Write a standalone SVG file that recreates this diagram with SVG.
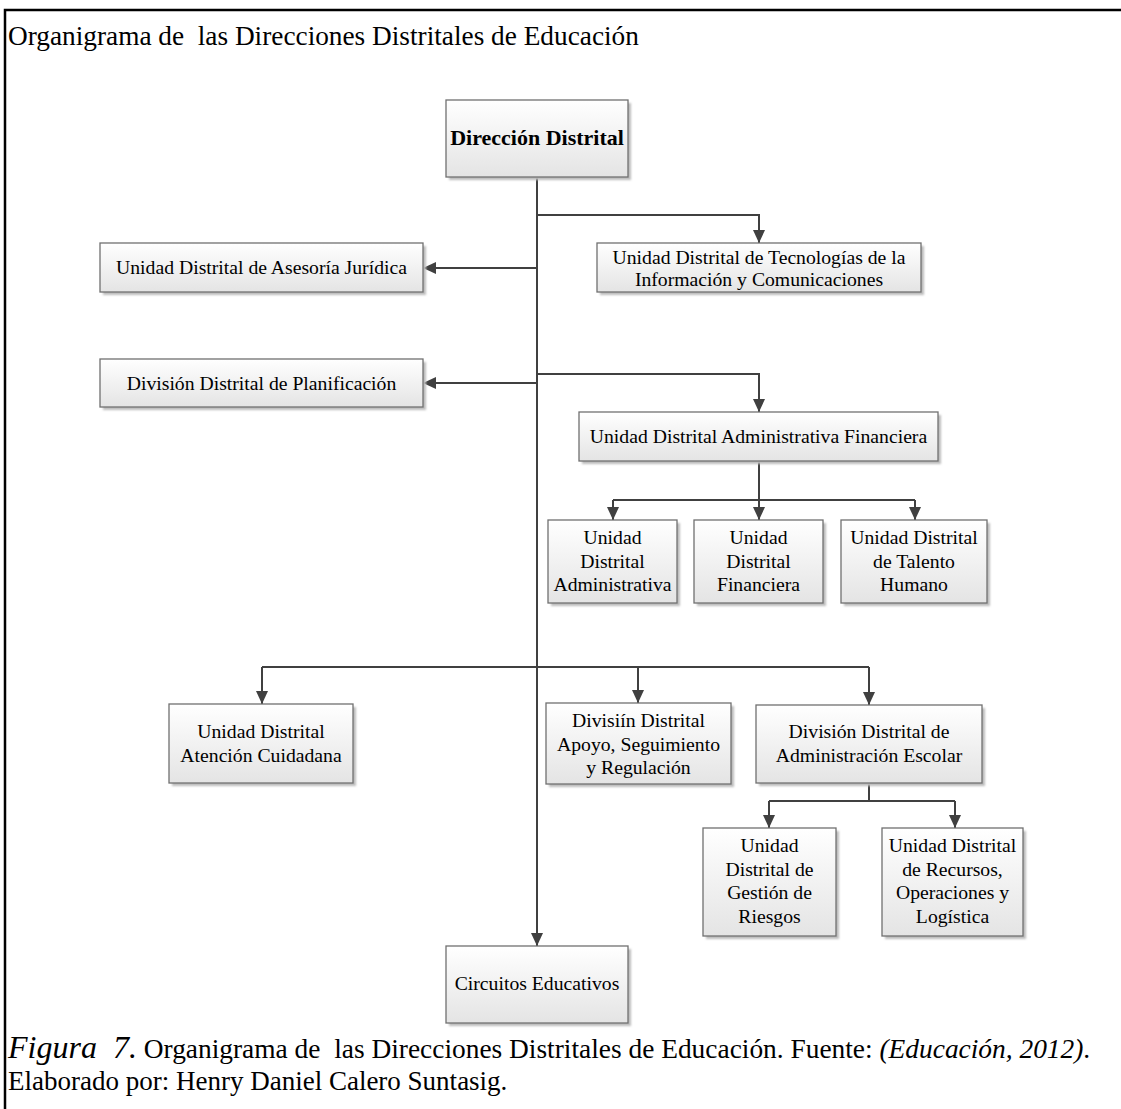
<svg xmlns="http://www.w3.org/2000/svg" width="1121" height="1109" viewBox="0 0 1121 1109">
<defs>
<linearGradient id="gfill" x1="0" y1="0" x2="0" y2="1">
<stop offset="0" stop-color="#ffffff"/>
<stop offset="1" stop-color="#e4e4e4"/>
</linearGradient>
<filter id="blur" x="-10%" y="-10%" width="120%" height="130%">
<feGaussianBlur stdDeviation="1.2"/>
</filter>
<marker id="ah" markerUnits="userSpaceOnUse" markerWidth="14" markerHeight="12" refX="13" refY="6" orient="auto">
<path d="M0,0 L13,6 L0,12 z" fill="#404040"/>
</marker>
</defs>
<style>
.box{fill:url(#gfill);stroke:#707070;stroke-width:1.3}
.sh{fill:#bcbcbc;filter:url(#blur)}
.t{font-family:"Liberation Serif","Times New Roman",serif;font-size:19.7px;fill:#000;text-anchor:middle}
.b{font-weight:bold;font-size:22px}
.c{fill:none;stroke:#404040;stroke-width:2}
.a{marker-end:url(#ah)}
.cap{font-family:"Liberation Serif","Times New Roman",serif;fill:#000;white-space:pre}
</style>
<rect width="1121" height="1109" fill="#ffffff"/>
<path d="M5,1109 V10 H1121" fill="none" stroke="#000" stroke-width="2.5"/>
<text class="cap" x="8" y="45" font-size="27.3" xml:space="preserve">Organigrama de  las Direcciones Distritales de Educación</text>

<g id="connectors">
<path class="c a" d="M537,177 V946"/>
<path class="c a" d="M537,215 H759 V243"/>
<path class="c a" d="M537,268 H423"/>
<path class="c a" d="M537,383 H423"/>
<path class="c a" d="M537,374 H759 V412"/>
<path class="c" d="M759,461 V500 M613,500 H915"/>
<path class="c a" d="M613,500 V520"/>
<path class="c a" d="M759,500 V520"/>
<path class="c a" d="M915,500 V520"/>
<path class="c" d="M262,667 H869"/>
<path class="c a" d="M262,667 V704"/>
<path class="c a" d="M638,667 V703"/>
<path class="c a" d="M869,667 V705"/>
<path class="c" d="M869,783 V801 M769,801 H955"/>
<path class="c a" d="M769,801 V828"/>
<path class="c a" d="M955,801 V828"/>
</g>

<g id="n-direccion">
<rect class="sh" x="449" y="103" width="182" height="77"/>
<rect class="box" x="446" y="100" width="182" height="77"/>
<text class="t b" x="537" y="145">Dirección Distrital</text>
</g>
<g id="n-tic">
<rect class="sh" x="600" y="246" width="324" height="49"/>
<rect class="box" x="597" y="243" width="324" height="49"/>
<text class="t" x="759" y="264">Unidad Distrital de Tecnologías de la</text>
<text class="t" x="759" y="286">Información y Comunicaciones</text>
</g>
<g id="n-juridica">
<rect class="sh" x="103" y="246" width="323" height="49"/>
<rect class="box" x="100" y="243" width="323" height="49"/>
<text class="t" x="261.5" y="274">Unidad Distrital de Asesoría Jurídica</text>
</g>
<g id="n-planificacion">
<rect class="sh" x="103" y="362" width="323" height="48"/>
<rect class="box" x="100" y="359" width="323" height="48"/>
<text class="t" x="261.5" y="390">División Distrital de Planificación</text>
</g>
<g id="n-admfin">
<rect class="sh" x="582" y="415" width="359" height="49"/>
<rect class="box" x="579" y="412" width="359" height="49"/>
<text class="t" x="758.5" y="443">Unidad Distrital Administrativa Financiera</text>
</g>
<g id="n-administrativa">
<rect class="sh" x="551" y="523" width="129" height="83"/>
<rect class="box" x="548" y="520" width="129" height="83"/>
<text class="t" x="612.5" y="544">Unidad</text>
<text class="t" x="612.5" y="568">Distrital</text>
<text class="t" x="612.5" y="591">Administrativa</text>
</g>
<g id="n-financiera">
<rect class="sh" x="697" y="523" width="129" height="83"/>
<rect class="box" x="694" y="520" width="129" height="83"/>
<text class="t" x="758.5" y="544">Unidad</text>
<text class="t" x="758.5" y="568">Distrital</text>
<text class="t" x="758.5" y="591">Financiera</text>
</g>
<g id="n-talento">
<rect class="sh" x="844" y="523" width="146" height="83"/>
<rect class="box" x="841" y="520" width="146" height="83"/>
<text class="t" x="914" y="544">Unidad Distrital</text>
<text class="t" x="914" y="568">de Talento</text>
<text class="t" x="914" y="591">Humano</text>
</g>
<g id="n-atencion">
<rect class="sh" x="172" y="707" width="184" height="79"/>
<rect class="box" x="169" y="704" width="184" height="79"/>
<text class="t" x="261" y="738">Unidad Distrital</text>
<text class="t" x="261" y="762">Atención Cuidadana</text>
</g>
<g id="n-apoyo">
<rect class="sh" x="549" y="706" width="185" height="81"/>
<rect class="box" x="546" y="703" width="185" height="81"/>
<text class="t" x="638.5" y="727">Divisiín Distrital</text>
<text class="t" x="638.5" y="751">Apoyo, Seguimiento</text>
<text class="t" x="638.5" y="774">y Regulación</text>
</g>
<g id="n-escolar">
<rect class="sh" x="759" y="708" width="226" height="78"/>
<rect class="box" x="756" y="705" width="226" height="78"/>
<text class="t" x="869" y="738">División Distrital de</text>
<text class="t" x="869" y="762">Administración Escolar</text>
</g>
<g id="n-riesgos">
<rect class="sh" x="706" y="831" width="133" height="108"/>
<rect class="box" x="703" y="828" width="133" height="108"/>
<text class="t" x="769.5" y="852">Unidad</text>
<text class="t" x="769.5" y="875.5">Distrital de</text>
<text class="t" x="769.5" y="899">Gestión de</text>
<text class="t" x="769.5" y="922.5">Riesgos</text>
</g>
<g id="n-recursos">
<rect class="sh" x="885" y="831" width="141" height="108"/>
<rect class="box" x="882" y="828" width="141" height="108"/>
<text class="t" x="952.5" y="852">Unidad Distrital</text>
<text class="t" x="952.5" y="875.5">de Recursos,</text>
<text class="t" x="952.5" y="899">Operaciones y</text>
<text class="t" x="952.5" y="922.5">Logística</text>
</g>
<g id="n-circuitos">
<rect class="sh" x="449" y="949" width="182" height="77"/>
<rect class="box" x="446" y="946" width="182" height="77"/>
<text class="t" x="537" y="990">Circuitos Educativos</text>
</g>

<text class="cap" x="8" y="1058" font-size="27.4" xml:space="preserve"><tspan font-style="italic" font-size="32">Figura  7.</tspan> Organigrama de  las Direcciones Distritales de Educación. Fuente: <tspan font-style="italic">(Educación, 2012)</tspan>.</text>
<text class="cap" x="8" y="1090" font-size="27">Elaborado por: Henry Daniel Calero Suntasig.</text>
</svg>
